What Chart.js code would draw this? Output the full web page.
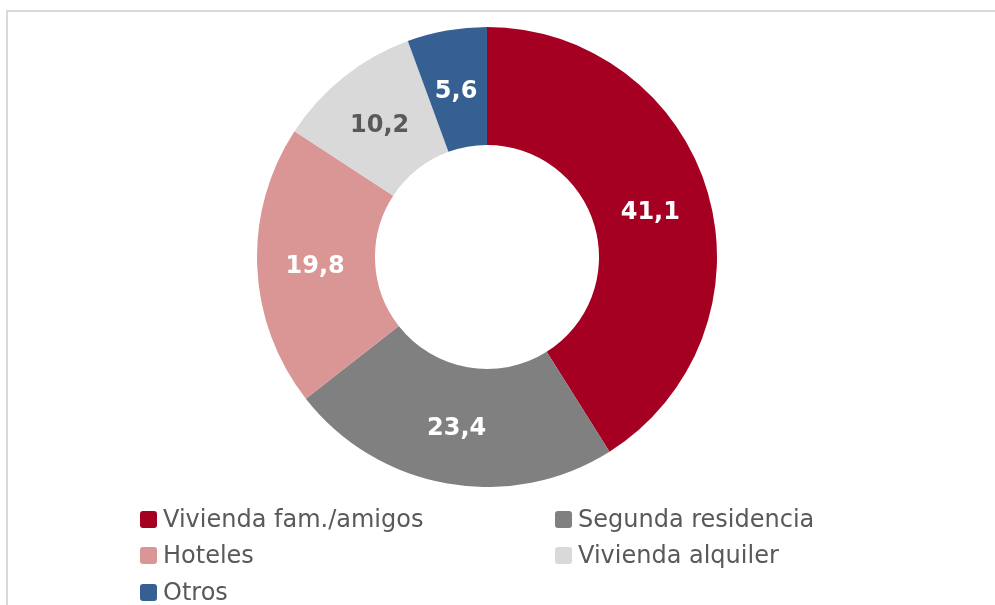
<!DOCTYPE html>
<html>
<head>
<meta charset="utf-8">
<script src="https://cdn.jsdelivr.net/npm/chart.js@4/dist/chart.umd.min.js"></script>
<style>
  html, body { margin: 0; background: #fff; width: 995px; height: 605px; overflow: hidden; }
  body { position: relative; font-family: "DejaVu Sans", Verdana, sans-serif; }
  #frame { position: absolute; left: 6px; top: 10px; width: 989px; height: 595px; border-left: 2px solid #d9d9d9; border-top: 2px solid #d9d9d9; }
  #wrap { position: absolute; left: 257px; top: 27px; width: 460px; height: 460px; }
  #legend { position: absolute; left: 0; top: 0; width: 995px; height: 605px; }
  .item { position: absolute; display: flex; align-items: center; font-size: 24px; color: #595959; white-space: nowrap; }
  .box { width: 17px; height: 17px; border-radius: 3px; margin-right: 6px; }
</style>
</head>
<body>
<div id="frame"></div>
<div id="wrap"><canvas id="chart"></canvas></div>
<div id="legend"></div>
<script>
const categories = ['Vivienda fam./amigos', 'Segunda residencia', 'Hoteles', 'Vivienda alquiler', 'Otros'];
const values = [41.1, 23.4, 19.8, 10.2, 5.6];
const colors = ['#a50021', '#808080', '#d99694', '#d9d9d9', '#376092'];
const labelColors = ['#ffffff', '#ffffff', '#ffffff', '#595959', '#ffffff'];

// legend laid out in two columns like the original
const legendPos = [[140, 520], [555, 520], [140, 556], [555, 556], [140, 593]];
const legendEl = document.getElementById('legend');
categories.forEach((name, i) => {
    const item = document.createElement('div');
    item.className = 'item';
    item.style.left = legendPos[i][0] + 'px';
    item.style.top = (legendPos[i][1] - 15) + 'px';
    item.innerHTML = `<span class="box" style="background:${colors[i]}"></span>${name}`;
    legendEl.appendChild(item);
});

// values written inside each slice
const sliceLabels = {
    id: 'sliceLabels',
    afterDatasetsDraw(chart) {
        const ctx = chart.ctx;
        const meta = chart.getDatasetMeta(0);
        ctx.save();
        ctx.font = 'bold 24px "DejaVu Sans", Verdana, sans-serif';
        ctx.textAlign = 'center';
        ctx.textBaseline = 'middle';
        meta.data.forEach((arc, i) => {
            const p = arc.tooltipPosition();
            ctx.fillStyle = labelColors[i];
            ctx.fillText(values[i].toFixed(1).replace('.', ','), p.x - 1, p.y + 3);
        });
        ctx.restore();
    }
};

new Chart(document.getElementById('chart'), {
    type: 'doughnut',
    data: {
        labels: categories,
        datasets: [{
            data: values,
            backgroundColor: colors,
            borderWidth: 0
        }]
    },
    options: {
        responsive: true,
        maintainAspectRatio: false,
        animation: false,
        cutout: '48.7%',
        layout: { padding: 0 },
        plugins: {
            legend: { display: false },
            tooltip: { enabled: false }
        }
    },
    plugins: [sliceLabels]
});
</script>
</body>
</html>
